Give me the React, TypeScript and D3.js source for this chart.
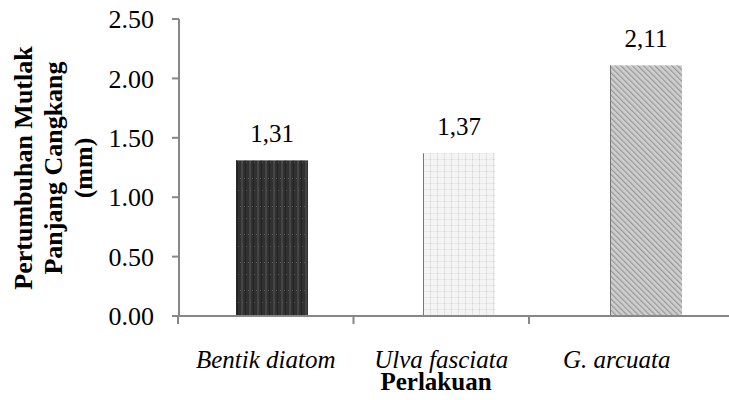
import * as d3 from "d3";
import React from "react";

const categories = ["Bentik diatom", "Ulva fasciata", "G. arcuata"];
const values = [1.31, 1.37, 2.11];
const valueLabels = ["1,31", "1,37", "2,11"];
const yTicks = [0, 0.5, 1.0, 1.5, 2.0, 2.5];
const yTitleLines = ["Pertumbuhan Mutlak", "Panjang Cangkang", "(mm)"];
const patternIds = ["pat-dark", "pat-light", "pat-diag"];

const FONT = "Liberation Serif";
const width = 729;
const height = 400;
const axisColor = "#878787";

// scales
const y = d3.scaleLinear().domain([0, 2.5]).range([316, 19]);
const xAxisScale = d3.scaleBand<string>().domain(categories).range([178, 704.5]);
const xBar = d3
  .scaleBand<string>()
  .domain(categories)
  .range([178.5, 739.5])
  .paddingInner(0.615)
  .paddingOuter(0.3075);

const Patterns: React.FC = () => (
  <defs>
    <pattern id="pat-dark" patternUnits="userSpaceOnUse" width={8} height={28}>
      <rect width={8} height={28} fill="#313131" />
      <rect x={1} width={2} height={28} fill="#444" />
      <rect x={5} width={1} height={28} fill="#222" />
      <rect x={0} y={10} width={1} height={1} fill="#5a5a5a" />
      <rect x={4} y={10} width={1} height={1} fill="#5a5a5a" />
      <rect x={2} y={22} width={1} height={1} fill="#555" />
      <rect x={6} y={22} width={1} height={1} fill="#555" />
    </pattern>
    <pattern id="pat-light" patternUnits="userSpaceOnUse" width={7} height={6}>
      <rect width={7} height={6} fill="#f4f4f4" />
      <rect x={3} width={1} height={6} fill="#e3e3e3" />
      <rect y={3} width={7} height={1} fill="#e9e9e9" />
      <rect x={3} y={3} width={1} height={1} fill="#d0d0d0" />
    </pattern>
    <pattern
      id="pat-diag"
      patternUnits="userSpaceOnUse"
      width={4}
      height={4}
      patternTransform="rotate(-45)"
    >
      <rect width={4} height={4} fill="#c0c0c0" />
      <rect width={1} height={4} fill="#9a9a9a" />
      <rect x={2.5} width={1} height={4} fill="#dedede" />
    </pattern>
  </defs>
);

export default function App() {
  return (
    <svg
      width={width}
      height={height}
      style={{ position: "absolute", left: 0, top: 0 }}
      fontFamily={FONT}
    >
      <Patterns />

      {/* bars */}
      {categories.map((c, i) => (
        <g key={c}>
          <rect
            x={xBar(c)}
            width={xBar.bandwidth()}
            y={y(values[i])}
            height={y(0) - y(values[i])}
            fill={`url(#${patternIds[i]})`}
          />
          <line
            x1={xBar(c)! + 0.5}
            x2={xBar(c)! + 0.5}
            y1={y(values[i])}
            y2={y(0)}
            stroke={i === 0 ? "#2a2a2a" : "#777"}
          />
          <text
            x={xBar(c)! + xBar.bandwidth() / 2}
            y={y(values[i]) - 18}
            textAnchor="middle"
            fontFamily={FONT}
            fontSize={25}
          >
            {valueLabels[i]}
          </text>
        </g>
      ))}

      {/* y axis */}
      <g transform="translate(179,0)">
        <line y1={y(2.5)} y2={y(0)} stroke={axisColor} strokeWidth={2} />
        {yTicks.map((t) => (
          <g key={t}>
            <line x1={-7} x2={0} y1={y(t)} y2={y(t)} stroke={axisColor} strokeWidth={2} />
            <text
              x={-25}
              y={y(t)}
              dy="0.35em"
              textAnchor="end"
              fontFamily={FONT}
              fontSize={26}
            >
              {t.toFixed(2)}
            </text>
          </g>
        ))}
      </g>

      {/* x axis */}
      <g transform={`translate(0,${y(0)})`}>
        <line x1={178} x2={width} stroke={axisColor} strokeWidth={2} />
        {categories.map((c) => (
          <g key={c}>
            <line
              x1={xAxisScale(c)}
              x2={xAxisScale(c)}
              y1={0}
              y2={8}
              stroke={axisColor}
              strokeWidth={2}
            />
            <text
              x={xAxisScale(c)! + xAxisScale.bandwidth() / 2}
              y={52}
              textAnchor="middle"
              fontFamily={FONT}
              fontStyle="italic"
              fontSize={25}
            >
              {c}
            </text>
          </g>
        ))}
      </g>

      {/* axis titles */}
      <text
        x={436}
        y={390}
        textAnchor="middle"
        fontFamily={FONT}
        fontWeight="bold"
        fontSize={25}
      >
        Perlakuan
      </text>
      <text
        transform="translate(0,168) rotate(-90)"
        textAnchor="middle"
        fontFamily={FONT}
        fontWeight="bold"
        fontSize={26}
      >
        {yTitleLines.map((t, i) => (
          <tspan key={t} x={0} y={32 + i * 30}>
            {t}
          </tspan>
        ))}
      </text>
    </svg>
  );
}
